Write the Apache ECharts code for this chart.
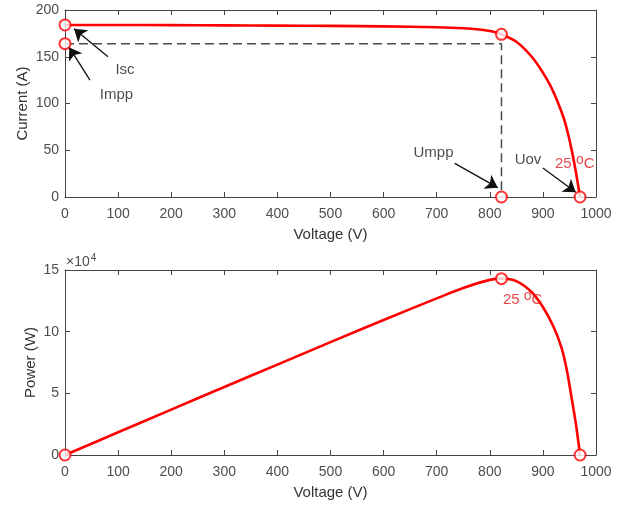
<!DOCTYPE html>
<html>
<head>
<meta charset="utf-8">
<script src="https://cdn.jsdelivr.net/npm/echarts@6/dist/echarts.min.js"></script>
<style>
  html, body { margin: 0; background: #fff; }
  #main { width: 631px; height: 506px; }
</style>
</head>
<body>
<div id="main"></div>
<script>
// I-V curve
const ivVoltage = [0, 100, 200, 300, 400, 500, 600, 700, 750, 780, 800, 822, 850, 879, 900, 915, 929, 940, 948, 955, 962, 970];
const ivCurrent = [184, 184, 183.8, 183.6, 183.3, 183, 182.5, 181.5, 180.5, 179.2, 177.5, 174, 166, 150, 133, 118, 100, 83, 66, 48, 27, 0];

// P-V curve
const pvVoltage = [0, 100, 200, 300, 400, 500, 600, 700, 750, 800, 822, 850, 879, 900, 920, 935, 945, 953, 962, 970];
const pvPower = [0, 18400, 36800, 55100, 73300, 91500, 109500, 127000, 135400, 142000, 143000, 141000, 132000, 120000, 104000, 87000, 69000, 49000, 25500, 0];

// marked points
const ivMarks = [[0, 184], [0, 164], [822, 174], [822, 0], [970, 0]];
const pvMarks = [[0, 0], [822, 143000], [970, 0]];

// dashed guide through the MPP
const guideV = [0, 822, 822];
const guideI = [164, 164, 0];

// annotation arrows: [tail, head] in data coords
const ivArrows = [
  [[81, 150], [17, 180]],   // Isc
  [[47, 125], [8, 160]],    // Impp
  [[734, 36], [815, 10]],   // Umpp
  [[900, 31], [962, 5]]     // Uov
];
const ivNotes = [
  { name: 'Isc', value: [113, 136] },
  { name: 'Impp', value: [97, 109] },
  { name: 'Umpp', value: [694, 47] },
  { name: 'Uov', value: [872, 40] }
];
const tempNoteIV = [960, 35];
const tempNotePV = [862, 125500];

const FONT = 'Liberation Sans, Arial, sans-serif';
const AX = '#444';
const LBL = '#4d4d4d';
const RED = '#ff0000';

const chart = echarts.init(document.getElementById('main'));

function xAx(grid, pos) {
  const bottom = pos === 'bottom';
  return {
    type: 'value', gridIndex: grid, position: pos, min: 0, max: 1000, interval: 100,
    name: bottom ? 'Voltage (V)' : '', nameLocation: 'middle', nameGap: 30,
    nameMoveOverlap: false,
    nameTextStyle: { color: '#333', fontSize: 15, fontFamily: FONT },
    axisLine: { show: true, onZero: false, lineStyle: { color: AX, width: 1 } },
    axisTick: { show: true, inside: true, length: 5, lineStyle: { color: AX } },
    axisLabel: { show: bottom, color: LBL, fontSize: 14, fontFamily: FONT, margin: 10, formatter: v => String(v) },
    splitLine: { show: false }
  };
}
function yAx(grid, pos, max, interval, name, gap, fmt) {
  const left = pos === 'left';
  return {
    type: 'value', gridIndex: grid, position: pos, min: 0, max: max, interval: interval,
    name: left ? name : '', nameLocation: 'middle', nameGap: gap,
    nameMoveOverlap: false,
    nameTextStyle: { color: '#333', fontSize: 15, fontFamily: FONT },
    axisLine: { show: true, onZero: false, lineStyle: { color: AX, width: 1 } },
    axisTick: { show: true, inside: true, length: 5, lineStyle: { color: AX } },
    axisLabel: { show: left, color: LBL, fontSize: 14, fontFamily: FONT, margin: 6, formatter: fmt || (v => String(v)) },
    splitLine: { show: false }
  };
}

const supRich = {
  base: { fontSize: 15, color: '#e0161b', fontFamily: FONT },
  sup: { fontSize: 14, color: '#e0161b', fontFamily: FONT, padding: [0, 0, 8, 0] }
};

chart.setOption({
  animation: false,
  backgroundColor: '#fff',
  grid: [
    { left: 65, top: 10, width: 531, height: 187 },
    { left: 65, top: 270, width: 531, height: 185 }
  ],
  xAxis: [xAx(0, 'bottom'), xAx(0, 'top'), xAx(1, 'bottom'), xAx(1, 'top')],
  yAxis: [
    yAx(0, 'left', 200, 50, 'Current (A)', 35),
    yAx(0, 'right', 200, 50, '', 0),
    yAx(1, 'left', 150000, 50000, 'Power (W)', 27, v => String(v / 10000)),
    yAx(1, 'right', 150000, 50000, '', 0)
  ],
  graphic: [{
    type: 'text', left: 66, top: 253,
    style: {
      text: '{m|×10}{s|4}',
      rich: {
        m: { fontSize: 14, fill: LBL, fontFamily: FONT },
        s: { fontSize: 10, fill: LBL, fontFamily: FONT, padding: [0, 0, 9, 1] }
      }
    }
  }],
  series: [
    {
      type: 'line', xAxisIndex: 0, yAxisIndex: 0, symbol: 'none', z: 2,
      data: guideV.map((v, i) => [v, guideI[i]]),
      lineStyle: { color: '#4a4a4a', width: 1.5, type: [9, 5] },
      markLine: {
        silent: true, symbol: ['none', 'arrow'], symbolSize: 12,
        label: { show: false },
        lineStyle: { color: '#111', width: 1.3, type: 'solid' },
        data: ivArrows.map(a => [{ coord: a[0] }, { coord: a[1] }])
      }
    },
    {
      type: 'line', xAxisIndex: 0, yAxisIndex: 0, symbol: 'none', smooth: 0.35,
      z: 3, clip: false,
      data: ivVoltage.map((v, i) => [v, ivCurrent[i]]),
      lineStyle: { color: RED, width: 2.6 }
    },
    {
      type: 'scatter', xAxisIndex: 0, yAxisIndex: 0, symbol: 'emptyCircle', symbolSize: 11,
      z: 4, clip: false, data: ivMarks,
      itemStyle: { color: RED, borderColor: RED, borderWidth: 2.4 }
    },
    {
      type: 'scatter', xAxisIndex: 0, yAxisIndex: 0, symbolSize: 0, z: 5, clip: false,
      data: ivNotes,
      label: { show: true, position: 'inside', formatter: '{b}', color: '#222', fontSize: 15, fontFamily: FONT }
    },
    {
      type: 'scatter', xAxisIndex: 0, yAxisIndex: 0, symbolSize: 0, z: 5, clip: false,
      data: [tempNoteIV],
      label: { show: true, position: 'inside', formatter: '{base|25 }{sup|o}{base|C}', rich: supRich }
    },
    {
      type: 'line', xAxisIndex: 2, yAxisIndex: 2, symbol: 'none', smooth: 0.35,
      z: 3, clip: false,
      data: pvVoltage.map((v, i) => [v, pvPower[i]]),
      lineStyle: { color: RED, width: 2.6 }
    },
    {
      type: 'scatter', xAxisIndex: 2, yAxisIndex: 2, symbol: 'emptyCircle', symbolSize: 11,
      z: 4, clip: false, data: pvMarks,
      itemStyle: { color: RED, borderColor: RED, borderWidth: 2.4 }
    },
    {
      type: 'scatter', xAxisIndex: 2, yAxisIndex: 2, symbolSize: 0, z: 5, clip: false,
      data: [tempNotePV],
      label: { show: true, position: 'inside', formatter: '{base|25 }{sup|o}{base|C}', rich: supRich }
    }
  ]
});
</script>
</body>
</html>
